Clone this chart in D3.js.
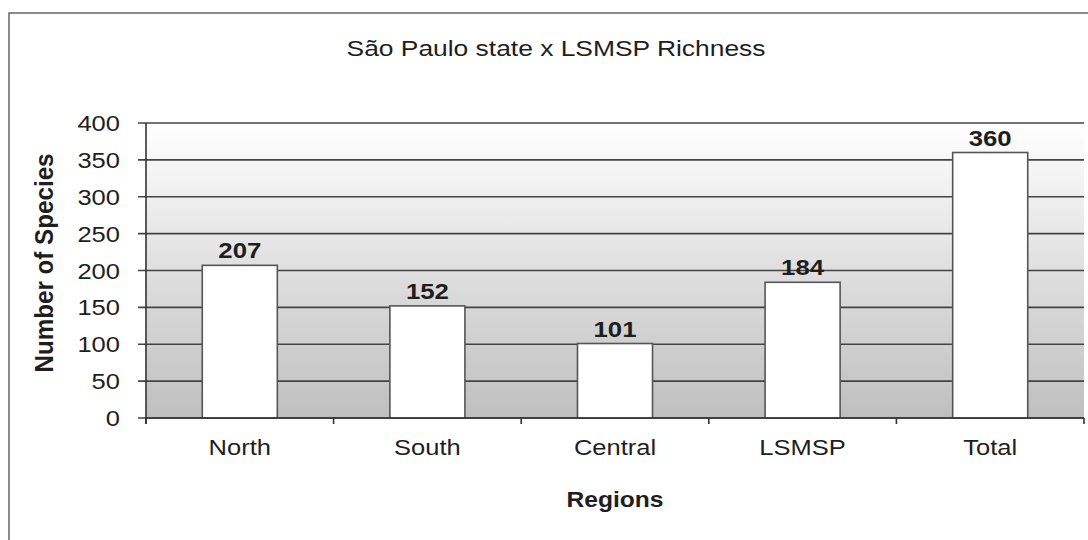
<!DOCTYPE html>
<html><head><meta charset="utf-8">
<script src="https://cdn.jsdelivr.net/npm/d3@7"></script>
<style>body{margin:0;background:#fff}svg{display:block}text{font-family:"Liberation Sans",Arial,sans-serif;fill:#1e1e1e}</style>
</head><body>
<svg id="c" width="1088" height="540"></svg>
<script>
const categories = ["North","South","Central","LSMSP","Total"];
const values = [207,152,101,184,360];
const yTicks = [0,50,100,150,200,250,300,350,400];
const titleText = "São Paulo state x LSMSP Richness";
const xTitle = "Regions";
const yTitle = "Number of Species";

const svg = d3.select("#c");
const L = 146, R = 1084, T = 123, B = 418;
const SX = 1.16, FS = 22;

const defs = svg.append("defs");
const g = defs.append("linearGradient").attr("id","bg").attr("x1",0).attr("y1",0).attr("x2",0).attr("y2",1);
g.append("stop").attr("offset","0%").attr("stop-color","#ffffff");
g.append("stop").attr("offset","100%").attr("stop-color","#bfbfbf");

// outer frame
svg.append("rect").attr("x",9).attr("y",13).attr("width",1100).attr("height",560)
  .attr("fill","#fff").attr("stroke","#666").attr("stroke-width",1.5);

const x = d3.scaleBand().domain(categories).range([L,R]).padding(0);
const y = d3.scaleLinear().domain([0,400]).range([B,T]);

svg.append("rect").attr("x",L).attr("y",T).attr("width",R-L).attr("height",B-T).attr("fill","url(#bg)");

function txt(parent, s, px, py, opts={}) {
  return parent.append("text")
    .attr("transform",`translate(${px},${py}) ${opts.rot?`rotate(${opts.rot}) `:""}scale(${opts.sx||SX},${opts.sy||1})`)
    .attr("text-anchor",opts.anchor||"middle")
    .attr("font-size",opts.fs||FS)
    .attr("font-weight",opts.bold?"bold":"normal")
    .text(s);
}

// gridlines + y ticks
svg.append("g").selectAll("line").data(yTicks).join("line")
  .attr("x1",L-8).attr("x2",R).attr("y1",d=>y(d)).attr("y2",d=>y(d))
  .attr("stroke","#444").attr("stroke-width",1.6);

const yl = svg.append("g");
yTicks.forEach(d=>txt(yl, String(d), 120, y(d)+8, {anchor:"end"}));

// bars
const bw = x.bandwidth()*0.4;
svg.append("g").selectAll("rect").data(values).join("rect")
  .attr("x",(d,i)=>x(categories[i])+x.bandwidth()/2-bw/2)
  .attr("y",d=>y(d)).attr("width",bw).attr("height",d=>B-y(d))
  .attr("fill","#fff").attr("stroke","#555").attr("stroke-width",1.6);

const vl = svg.append("g");
values.forEach((v,i)=>txt(vl, String(v), x(categories[i])+x.bandwidth()/2, y(v)-7, {bold:true, fs:23, sx:1.12}));

// axes lines
svg.append("line").attr("x1",L).attr("x2",L).attr("y1",T).attr("y2",B+6).attr("stroke","#333").attr("stroke-width",1.6);
svg.append("line").attr("x1",L).attr("x2",R).attr("y1",B).attr("y2",B).attr("stroke","#333").attr("stroke-width",1.6);
const bounds = categories.map(c=>x(c)).concat([R]);
svg.append("g").selectAll("line").data(bounds).join("line")
  .attr("x1",d=>d).attr("x2",d=>d).attr("y1",B).attr("y2",B+6).attr("stroke","#333").attr("stroke-width",1.6);

const cl = svg.append("g");
categories.forEach(c=>txt(cl, c, x(c)+x.bandwidth()/2, 455));

txt(svg, titleText, 556, 56, {sx:1.2});
txt(svg, xTitle, (L+R)/2, 507, {bold:true, sx:1.12});
txt(svg, yTitle, 53, 263, {bold:true, rot:-90, sx:1.1, sy:1.15});
</script>
</body></html>
